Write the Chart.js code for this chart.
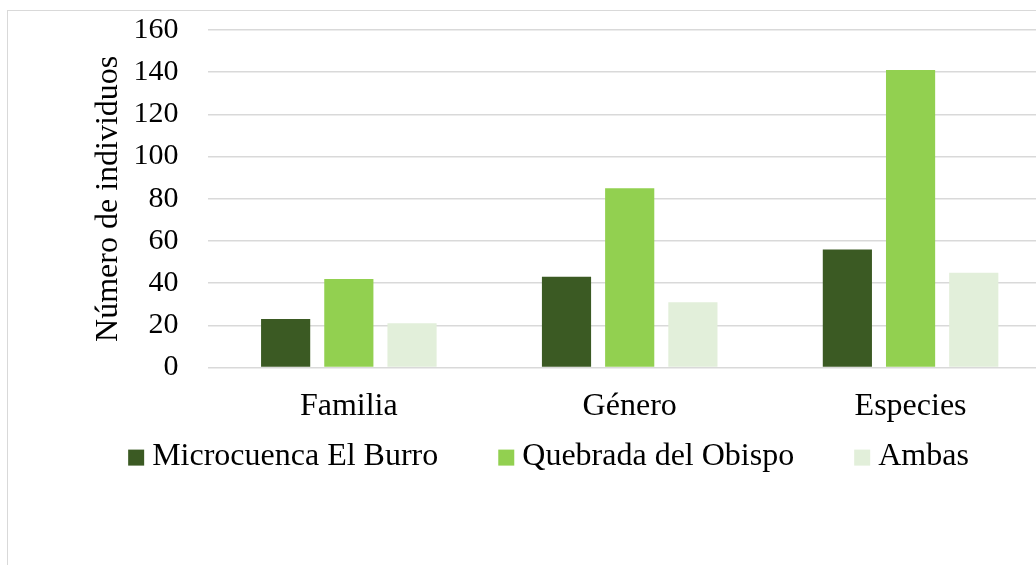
<!DOCTYPE html>
<html>
<head>
<meta charset="utf-8">
<script src="https://cdn.jsdelivr.net/npm/chart.js@4/dist/chart.umd.min.js"></script>
<style>
  html, body { margin: 0; padding: 0; background: #fff; overflow: hidden; }
  .frame {
    position: absolute;
    left: 7px;
    top: 10px;
    width: 1100px;
    height: 600px;
    border: 1px solid #d9d9d9;
  }
  canvas { position: absolute; left: 0; top: -29px; }
</style>
</head>
<body>
<div class="frame">
  <canvas id="chart" width="1085" height="556"></canvas>
</div>
<script>
const categories = ["Familia", "Género", "Especies"];
const seriesNames = ["Microcuenca El Burro", "Quebrada del Obispo", "Ambas"];
const burro = [23, 43, 56];
const obispo = [42, 85, 141];
const ambas = [21, 31, 45];
const yTicks = [0, 20, 40, 60, 80, 100, 120, 140, 160];

const colors = ["#3b5a23", "#92d050", "#e2efda"];
const fontFamily = "'Liberation Serif', 'Times New Roman', serif";

Chart.defaults.font.family = fontFamily;
Chart.defaults.font.size = 32;
Chart.defaults.color = "#000";

const datasets = [burro, obispo, ambas].map((values, i) => ({
  label: seriesNames[i],
  data: values,
  backgroundColor: colors[i],
  borderWidth: 0,
  categoryPercentage: 0.675,
  barPercentage: 0.778,
}));

// legend drawn in one row under the axis, tighter than the built-in one
const rowLegend = {
  id: "rowLegend",
  afterDraw(chart) {
    const ctx = chart.ctx;
    const box = 16, gap = 8, itemGap = 60;
    const y = chart.chartArea.bottom + 89;
    ctx.save();
    ctx.font = "32px " + fontFamily;
    ctx.textBaseline = "middle";
    ctx.textAlign = "left";
    const items = chart.data.datasets.map((ds) => ({
      text: ds.label,
      color: ds.backgroundColor,
      w: ctx.measureText(ds.label).width,
    }));
    const total = items.reduce((s, it) => s + box + gap + it.w, 0) + itemGap * (items.length - 1);
    let x = chart.width / 2 - total / 2 - 2;
    items.forEach((it) => {
      ctx.fillStyle = it.color;
      ctx.fillRect(x, y - box / 2 + 1, box, box);
      ctx.fillStyle = "#000";
      ctx.fillText(it.text, x + box + gap, y);
      x += box + gap + it.w + itemGap;
    });
    ctx.restore();
  },
};

new Chart(document.getElementById("chart"), {
  type: "bar",
  data: { labels: categories, datasets },
  plugins: [rowLegend],
  options: {
    responsive: false,
    animation: false,
    layout: { padding: { left: 81, top: 0, right: 42, bottom: 92 } },
    plugins: {
      tooltip: { enabled: false },
      legend: { display: false },
    },
    scales: {
      x: {
        grid: { display: false, drawTicks: false },
        border: { display: false },
        ticks: { padding: 20 },
      },
      y: {
        min: 0,
        max: 160,
        afterBuildTicks: (axis) => {
          axis.ticks = yTicks.map((v) => ({ value: v }));
        },
        grid: { color: "#d9d9d9", lineWidth: 1.5, drawTicks: false },
        border: { display: false },
        ticks: { padding: 30, autoSkip: false, font: { size: 30 } },
        title: {
          display: true,
          text: "Número de individuos",
          padding: { top: 0, bottom: -24 },
        },
      },
    },
  },
});
</script>
</body>
</html>
